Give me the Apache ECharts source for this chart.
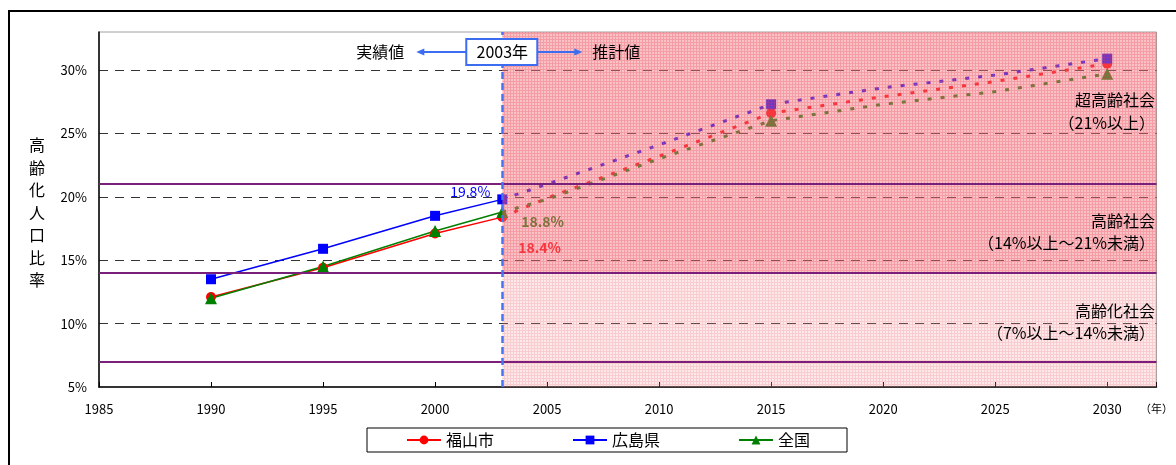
<!DOCTYPE html>
<html>
<head>
<meta charset="utf-8">
<script src="https://cdn.jsdelivr.net/npm/echarts@6/dist/echarts.min.js"></script>
<style>
  html, body { margin: 0; padding: 0; background: #fff; }
  #chart { width: 1176px; height: 465px; }
</style>
</head>
<body>
<div id="chart"></div>
<script>
// 実績値（国勢調査）
const actualYears = [1990, 1995, 2000, 2003];
const fukuyama  = [12.1, 14.4, 17.1, 18.4];
const hiroshima = [13.5, 15.9, 18.5, 19.8];
const zenkoku   = [12.0, 14.5, 17.3, 18.8];

// 推計値
const projYears = [2003, 2005, 2010, 2015, 2020, 2025, 2030];
const fukuyamaProj  = [18.4, 19.9, 23.2, 26.6, 27.9, 29.1, 30.5];
const hiroshimaProj = [19.8, 21.0, 24.1, 27.3, 28.6, 29.6, 30.9];
const zenkokuProj   = [18.8, 19.8, 23.0, 26.0, 27.3, 28.3, 29.7];
const projMarkerYears = [2015, 2030];

// 区分（高齢化社会・高齢社会・超高齢社会）の境界
const thresholds = [7, 14, 21];
const baseYear = 2003;

const seriesNames = ['福山市', '広島県', '全国'];
const regionLabels = [
  ['超高齢社会', '（21%以上）'],
  ['高齢社会', '（14%以上～21%未満）'],
  ['高齢化社会', '（7%以上～14%未満）']
];

const X_MIN = 1985, X_MAX = 2032.2, Y_MIN = 5, Y_MAX = 33;
const FONT = '"Noto Sans CJK JP", "Noto Sans", sans-serif';

const pairs = (xs, ys) => xs.map((x, i) => [x, ys[i]]);

// 網掛け用パターン
function makePattern(base, line) {
  const c = document.createElement('canvas');
  c.width = 3; c.height = 3;
  const g = c.getContext('2d');
  g.fillStyle = base;
  g.fillRect(0, 0, 3, 3);
  g.clearRect(0, 0, 3, 1);
  g.clearRect(0, 1, 1, 2);
  g.fillStyle = line;
  g.fillRect(0, 0, 3, 1);
  g.fillRect(0, 1, 1, 2);
  return { image: c, repeat: 'repeat' };
}
const darkFill  = makePattern('rgba(240,120,130,0.45)', 'rgba(240,90,105,0.6)');
const lightFill = makePattern('rgba(245,150,160,0.22)', 'rgba(240,120,130,0.38)');

const colors = ['#ff0000', '#0000ff', '#008000'];
const symbols = ['circle', 'rect', 'triangle'];
const symbolSizes = [10, 10, 12];
const labelPos = [
  { position: 'right', offset: [6, 31] },
  { position: 'left',  offset: [-2, -8] },
  { position: 'right', offset: [8, 10] }
];

const actualData = [fukuyama, hiroshima, zenkoku];
const projData = [fukuyamaProj, hiroshimaProj, zenkokuProj];

const series = [];
actualData.forEach((vals, i) => {
  series.push({
    name: seriesNames[i],
    type: 'line',
    z: 2,
    data: pairs(actualYears, vals),
    symbol: symbols[i],
    symbolSize: symbolSizes[i],
    color: colors[i],
    lineStyle: { color: colors[i], width: 1.5 },
    itemStyle: { color: colors[i] },
    label: {
      show: true,
      position: labelPos[i].position,
      offset: labelPos[i].offset,
      color: colors[i],
      fontSize: 14,
      fontWeight: i === 1 ? 'normal' : 'bold',
      fontFamily: FONT,
      formatter: p => p.value[0] === baseYear ? p.value[1].toFixed(1) + '%' : ''
    }
  });
});
projData.forEach((vals, i) => {
  series.push({
    name: seriesNames[i] + '（推計）',
    type: 'line',
    z: 2,
    data: pairs(projYears, vals),
    symbol: v => projMarkerYears.includes(v[0]) ? symbols[i] : 'none',
    symbolSize: symbolSizes[i],
    showSymbol: true,
    color: colors[i],
    lineStyle: { color: colors[i], width: 3, type: [4, 9] },
    itemStyle: { color: colors[i] }
  });
});

// 推計期間の網掛け（線の上に重ねる）
series.push({
  name: 'shade',
  type: 'line',
  z: 3,
  silent: true,
  data: [],
  markArea: {
    silent: true,
    z: 3,
    itemStyle: { opacity: 1, borderWidth: 0 },
    data: [
      [{ xAxis: baseYear, yAxis: thresholds[1], itemStyle: { color: darkFill, opacity: 1 } },
       { xAxis: X_MAX, yAxis: Y_MAX }],
      [{ xAxis: baseYear, yAxis: Y_MIN, itemStyle: { color: lightFill, opacity: 1 } },
       { xAxis: X_MAX, yAxis: thresholds[1] }]
    ]
  }
});

// 区分線と基準年
series.push({
  name: 'rules',
  type: 'line',
  z: 4,
  silent: true,
  data: [],
  markLine: {
    silent: true,
    z: 6,
    symbol: ['none', 'none'],
    label: { show: false },
    lineStyle: { color: '#7a1f7a', width: 2, type: 'solid' },
    data: thresholds.map(t => ({ yAxis: t })).concat([
      { xAxis: baseYear, lineStyle: { color: '#4474f2', width: 2.5, type: [7, 4] } }
    ])
  }
});

const chart = echarts.init(document.getElementById('chart'), null, { renderer: 'canvas' });

chart.setOption({
  animation: false,
  backgroundColor: '#fff',
  textStyle: { fontFamily: FONT },
  grid: {
    left: 99, top: 32, right: 16, bottom: 78,
    show: true, borderColor: '#a0a0a0', borderWidth: 1, backgroundColor: '#fff'
  },
  xAxis: {
    type: 'value',
    min: X_MIN, max: X_MAX, interval: 5,
    axisLine: { show: true, onZero: false, lineStyle: { color: '#000', width: 1.5 } },
    axisTick: { show: true, inside: true, length: 5, lineStyle: { color: '#000' } },
    splitLine: { show: false },
    axisLabel: {
      color: '#000', fontSize: 13, margin: 16, fontFamily: FONT,
      formatter: v => v === X_MAX ? '{u|（年）}' : (v % 5 === 0 ? String(v) : ''),
      rich: { u: { fontSize: 11, color: '#000', fontFamily: FONT } }
    }
  },
  yAxis: {
    type: 'value',
    min: Y_MIN, max: Y_MAX, interval: 5,
    axisLine: { show: true, lineStyle: { color: '#000', width: 1.5 } },
    axisTick: { show: false },
    splitLine: {
      show: true, showMinLine: false, showMaxLine: false,
      lineStyle: { color: '#333', width: 1, type: [9, 7] }
    },
    axisLabel: {
      color: '#000', fontSize: 13, margin: 12, fontFamily: FONT,
      formatter: v => v % 5 === 0 ? v + '%' : ''
    }
  },
  legend: {
    data: seriesNames,
    left: 367, top: 428,
    orient: 'horizontal',
    backgroundColor: '#fff',
    borderColor: '#000', borderWidth: 1,
    padding: [4, 37, 4, 39],
    itemGap: 78,
    itemWidth: 34, itemHeight: 11,
    textStyle: { fontSize: 16, color: '#000', fontFamily: FONT }
  },
  series: series
});

// 注記（基準年の枠、矢印、区分名、縦軸名）
const px = chart.convertToPixel({ xAxisIndex: 0 }, baseYear);
const blue = '#3c6cf0';
const annY = 52;
const graphics = [
  { type: 'rect', z: 100, shape: { x: 9, y: 11, width: 1200, height: 500 },
    style: { fill: null, stroke: '#000', lineWidth: 2 } },
  { type: 'line', z: 100, shape: { x1: px - 36, y1: annY, x2: px - 80, y2: annY },
    style: { stroke: blue, lineWidth: 2 } },
  { type: 'polygon', z: 100, shape: { points: [[px - 86, annY], [px - 78, annY - 3.5], [px - 78, annY + 3.5]] },
    style: { fill: blue } },
  { type: 'line', z: 100, shape: { x1: px + 35, y1: annY, x2: px + 74, y2: annY },
    style: { stroke: blue, lineWidth: 2 } },
  { type: 'polygon', z: 100, shape: { points: [[px + 80, annY], [px + 72, annY - 3.5], [px + 72, annY + 3.5]] },
    style: { fill: blue } },
  { type: 'rect', z: 101, shape: { x: px - 36, y: annY - 13, width: 71, height: 26 },
    style: { fill: '#fff', stroke: blue, lineWidth: 2 } },
  { type: 'text', z: 102, x: px, y: annY,
    style: { text: baseYear + '年', fontSize: 16, fontFamily: FONT, fill: '#000', align: 'center', verticalAlign: 'middle' } },
  { type: 'text', z: 102, x: px - 122, y: annY,
    style: { text: '実績値', fontSize: 16, fontFamily: FONT, fill: '#000', align: 'center', verticalAlign: 'middle' } },
  { type: 'text', z: 102, x: px + 114, y: annY,
    style: { text: '推計値', fontSize: 16, fontFamily: FONT, fill: '#000', align: 'center', verticalAlign: 'middle' } },
  { type: 'text', z: 102, x: 37, y: 134,
    style: { text: '高齢化人口比率'.split('').join('\n'), fontSize: 16, lineHeight: 22.5, fontFamily: FONT,
             fill: '#000', align: 'center', verticalAlign: 'top' } }
];
const regionY = [[100, 123], [221, 243], [311, 333]];
regionLabels.forEach((pair, i) => {
  pair.forEach((t, j) => {
    graphics.push({ type: 'text', z: 102, x: 1155, y: regionY[i][j],
      style: { text: t, fontSize: 16, fontFamily: FONT, fill: '#000', align: 'right', verticalAlign: 'middle' } });
  });
});
chart.setOption({ graphic: graphics });
</script>
</body>
</html>
